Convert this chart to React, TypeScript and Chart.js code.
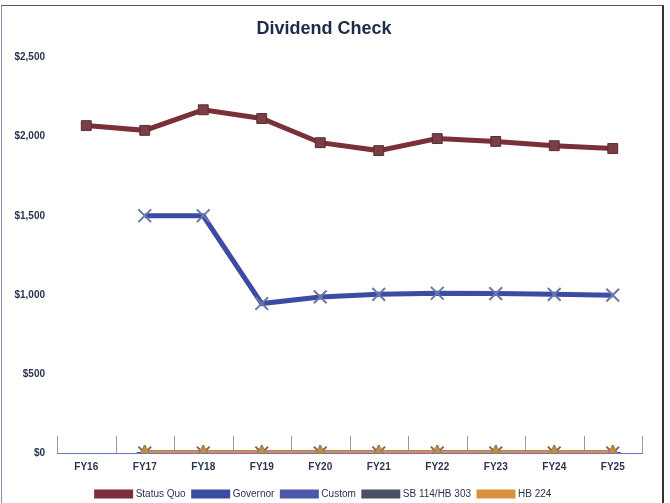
import React, { useEffect, useRef } from "react";
import { Chart, registerables } from "chart.js";

Chart.register(...registerables);

const categories = ["FY16", "FY17", "FY18", "FY19", "FY20", "FY21", "FY22", "FY23", "FY24", "FY25"];
const statusQuo = [2070, 2040, 2170, 2115, 1962, 1912, 1988, 1970, 1943, 1925];
const governor = [null, 1500, 1500, 945, 987, 1003, 1010, 1008, 1003, 998];
const custom = [null, 0, 0, 0, 0, 0, 0, 0, 0, 0];
const sb114 = [null, 0, 0, 0, 0, 0, 0, 0, 0, 0];
const hb224 = [null, 0, 0, 0, 0, 0, 0, 0, 0, 0];
const yTicks = [0, 500, 1000, 1500, 2000, 2500];

const tickMarks = {
  id: "tickMarks",
  beforeDatasetsDraw(chart: any) {
    const x = chart.scales.x;
    const y = chart.scales.y;
    const ctx = chart.ctx;
    const base = y.getPixelForValue(0);
    const n = categories.length;
    const bounds: number[] = [x.left];
    for (let i = 1; i < n; i++) {
      bounds.push((x.getPixelForValue(i - 1) + x.getPixelForValue(i)) / 2);
    }
    bounds.push(x.right);
    ctx.save();
    ctx.strokeStyle = "#9a9aa8";
    ctx.lineWidth = 1;
    bounds.forEach((bx) => {
      ctx.beginPath();
      ctx.moveTo(Math.round(bx) + 0.5, base - 17);
      ctx.lineTo(Math.round(bx) + 0.5, base);
      ctx.stroke();
    });
    ctx.restore();
  },
};

export default function App() {
  const ref = useRef<HTMLCanvasElement | null>(null);
  useEffect(() => {
    document.body.style.margin = "0";
    const font = "'Liberation Sans', Arial, sans-serif";
    const chart = new Chart(ref.current as HTMLCanvasElement, {
      type: "line",
      data: {
        labels: categories,
        datasets: [
          {
            label: "HB 224",
            data: hb224,
            borderColor: "#dc8f3e",
            backgroundColor: "#c98a3a",
            borderWidth: 5,
            pointStyle: "triangle",
            pointRadius: 8,
            pointBorderColor: "#a8763a",
            pointBorderWidth: 1,
            order: 1,
          },
          {
            label: "SB 114/HB 303",
            data: sb114,
            borderColor: "#4a4f66",
            backgroundColor: "#4a4f66",
            borderWidth: 5,
            pointStyle: "crossRot",
            pointRadius: 9,
            pointBorderColor: "#6a6a7a",
            pointBorderWidth: 2,
            order: 2,
          },
          {
            label: "Custom",
            data: custom,
            borderColor: "#4b5aa8",
            backgroundColor: "#4b5aa8",
            borderWidth: 5,
            pointStyle: "cross",
            pointRadius: 8,
            pointBorderWidth: 2,
            order: 3,
          },
          {
            label: "Governor",
            data: governor,
            borderColor: "#3d4ca3",
            backgroundColor: "#3d4ca3",
            borderWidth: 5,
            pointStyle: "crossRot",
            pointRadius: 9,
            pointBorderColor: "#6a78a8",
            pointBorderWidth: 2,
            order: 4,
          },
          {
            label: "Status Quo",
            data: statusQuo,
            borderColor: "#7b2f38",
            backgroundColor: "#7a3e46",
            borderWidth: 5,
            pointStyle: "rect",
            pointRadius: 7,
            pointBorderColor: "#5e2a30",
            pointBorderWidth: 1,
            order: 5,
          },
        ],
      },
      options: {
        animation: false,
        responsive: false,
        layout: { padding: { left: 6, right: 28, top: 10, bottom: -6 } },
        plugins: {
          title: {
            display: true,
            text: "Dividend Check",
            color: "#1e2a4a",
            font: { family: font, size: 18, weight: "bold" },
            padding: { top: 8, bottom: 18 },
          },
          legend: {
            position: "bottom",
            reverse: true,
            labels: {
              color: "#2a3450",
              font: { family: font, size: 10 },
              boxWidth: 34,
              boxHeight: 4,
              padding: 8,
            },
          },
          tooltip: { enabled: false },
        },
        scales: {
          x: {
            offset: true,
            grid: { display: false, drawTicks: false },
            border: { display: true, color: "#6a78c0", width: 1 },
            ticks: {
              color: "#2a3450",
              font: { family: font, size: 10, weight: "bold" },
              padding: 8,
            },
          },
          y: {
            min: 0,
            max: 2500,
            afterBuildTicks: (s: any) => {
              s.ticks = yTicks.map((v) => ({ value: v }));
            },
            afterFit: (s: any) => {
              s.width = 51;
            },
            grid: { display: false, drawTicks: false },
            border: { display: false },
            ticks: {
              color: "#2a3450",
              font: { family: font, size: 10, weight: "bold" },
              padding: 12,
              callback: (v: any) => "$" + Number(v).toLocaleString("en-US"),
            },
          },
        },
      },
      plugins: [tickMarks],
    });
    return () => chart.destroy();
  }, []);
  return (
    <div style={{ position: "relative", width: 670, height: 503, background: "#fff" }}>
      <canvas ref={ref} width={670} height={503} />
      <div
        style={{
          position: "absolute",
          left: 1,
          top: 5,
          width: 660,
          height: 497,
          borderTop: "1px solid #555",
          borderLeft: "1px solid #8890b0",
          borderRight: "2px solid #333",
          pointerEvents: "none",
        }}
      />
    </div>
  );
}
